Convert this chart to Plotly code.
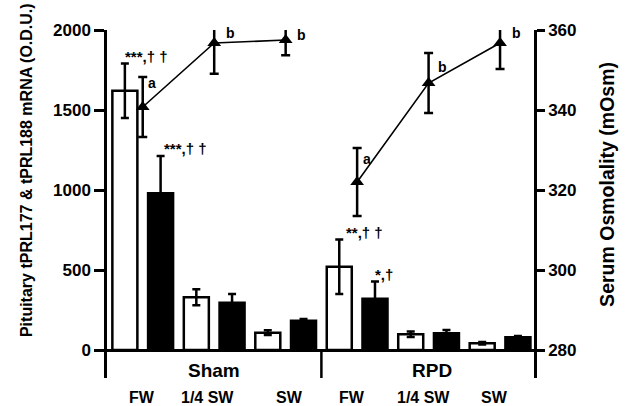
import plotly.graph_objects as go

# ---------------- data ----------------
groups = ["Sham", "RPD"]
salinity = ["FW", "1/4 SW", "SW"]

# positions of bars (index along the category axis)
open_x = [0, 2, 4, 6, 8, 10]
black_x = [1, 3, 5, 7, 9, 11]
# tPRL177 (open bars) and tPRL188 (filled bars), O.D.U.
open_vals = [1620, 330, 108, 520, 98, 42]
open_err = [170, 50, 15, 170, 17, 8]
black_vals = [980, 295, 183, 320, 105, 80]
black_err = [232, 55, 10, 108, 20, 8]

# serum osmolality (mOsm)
osm_x = [0.5, 2.5, 4.5, None, 6.5, 8.5, 10.5]
osm_vals = [340.75, 356.75, 357.5, None, 322, 346.75, 356.75]
osm_err = [7.5, 7.7, 3.8, None, 8.5, 7.5, 6.5]
osm_letters = ["a", "b", "b", None, "a", "b", "b"]
letter_shift = [(9, 24), (16, 10), (16, 5), None, (10, 23), (14, 16), (16, 10)]

sig_labels = ["***,† †", "***,† †", "**,† †", "*,†"]
sig_x = [0, 1, 6, 7]
sig_base = [open_vals[0] + open_err[0], black_vals[0] + black_err[0],
            open_vals[3] + open_err[3], black_vals[3] + black_err[3]]
sig_xshift = [22, 25, 25, 9]

group_label_x = [2.5, 8.6]
sub_label_x = [0.48, 2.3, 4.6, 6.36, 8.35, 10.34]
sub_labels = salinity + salinity

left_ticks = [0, 500, 1000, 1500, 2000]
right_ticks = [280, 300, 320, 340, 360]

FONT = "Arial, Liberation Sans, Helvetica, sans-serif"

fig = go.Figure()
fig.add_trace(go.Bar(
    x=open_x, y=open_vals, width=0.7,
    marker=dict(color="white", line=dict(color="black", width=2.5)),
    error_y=dict(type="data", array=open_err, color="black", thickness=2.5, width=4),
    showlegend=False,
))
fig.add_trace(go.Bar(
    x=black_x, y=black_vals, width=0.7,
    marker=dict(color="black", line=dict(color="black", width=2.5)),
    error_y=dict(type="data", array=black_err, color="black", thickness=2.5, width=4),
    showlegend=False,
))
fig.add_trace(go.Scatter(
    x=osm_x, y=osm_vals, yaxis="y2", mode="lines+markers",
    line=dict(color="black", width=1.6),
    marker=dict(symbol="triangle-up", size=12, color="black"),
    error_y=dict(type="data", array=osm_err, color="black", thickness=2.5, width=4.5),
    connectgaps=False, showlegend=False,
))

annotations = []
for xv, yv, lt, sh in zip(osm_x, osm_vals, osm_letters, letter_shift):
    if lt is None:
        continue
    annotations.append(dict(x=xv, y=yv, xref="x", yref="y2", text=f"<b>{lt}</b>",
                            showarrow=False, xshift=sh[0], yshift=sh[1],
                            xanchor="center", yanchor="middle",
                            font=dict(family=FONT, size=14, color="black")))
for t, xv, yv, xs in zip(sig_labels, sig_x, sig_base, sig_xshift):
    annotations.append(dict(x=xv, y=yv, xref="x", yref="y", text=f"<b>{t}</b>",
                            showarrow=False, xshift=xs, yanchor="bottom", yshift=-3,
                            xanchor="center",
                            font=dict(family=FONT, size=15, color="black")))
for g, xv in zip(groups, group_label_x):
    annotations.append(dict(x=xv, y=-125, xref="x", yref="y", text=f"<b>{g}</b>",
                            showarrow=False, xanchor="center", yanchor="middle",
                            font=dict(family=FONT, size=19, color="black")))
for s, xv in zip(sub_labels, sub_label_x):
    annotations.append(dict(x=xv, y=-0.055, xref="x", yref="paper", text=f"<b>{s}</b>",
                            showarrow=False, xanchor="center", yanchor="middle",
                            font=dict(family=FONT, size=16, color="black")))
annotations.append(dict(x=-0.187, y=0.598, xref="paper", yref="paper", textangle=-90,
                        xanchor="center", yanchor="middle",
                        text="<b>Pituitary tPRL177 &amp; tPRL188 mRNA (O.D.U.)</b>",
                        showarrow=False, font=dict(family=FONT, size=16, color="black")))
annotations.append(dict(x=1.171, y=0.555, xref="paper", yref="paper", textangle=-90,
                        xanchor="center", yanchor="middle",
                        text="<b>Serum Osmolality (mOsm)</b>",
                        showarrow=False, font=dict(family=FONT, size=19.5, color="black")))

shapes = [dict(type="line", xref="x", yref="y", x0=5.5, x1=5.5, y0=0, y1=-175,
               line=dict(color="black", width=2.5))]

fig.update_layout(
    width=631, height=406,
    margin=dict(l=107, r=97, t=30, b=28),
    paper_bgcolor="white", plot_bgcolor="white",
    barmode="overlay",
    xaxis=dict(range=[-0.5, 11.45], showgrid=False, zeroline=False, showline=False,
               showticklabels=False, ticks="", fixedrange=True),
    yaxis=dict(range=[-175, 2000], tickvals=left_ticks, showgrid=False,
               zeroline=True, zerolinecolor="black", zerolinewidth=2.5,
               showline=True, linecolor="black", linewidth=2.5,
               ticks="outside", ticklen=10, tickwidth=2.5, tickcolor="black",
               tickfont=dict(family=FONT, size=17, color="black", weight="bold")),
    yaxis2=dict(range=[273, 360], tickvals=right_ticks, overlaying="y", side="right",
                showgrid=False, zeroline=False,
                showline=True, linecolor="black", linewidth=2.5,
                ticks="outside", ticklen=8, tickwidth=2.5, tickcolor="black",
                tickfont=dict(family=FONT, size=17, color="black", weight="bold")),
    annotations=annotations, shapes=shapes,
    font=dict(family=FONT, color="black"),
)

fig.write_html("out.html", config={"displayModeBar": False},
               post_script="document.body.style.margin='0';document.body.style.overflow='hidden';")
